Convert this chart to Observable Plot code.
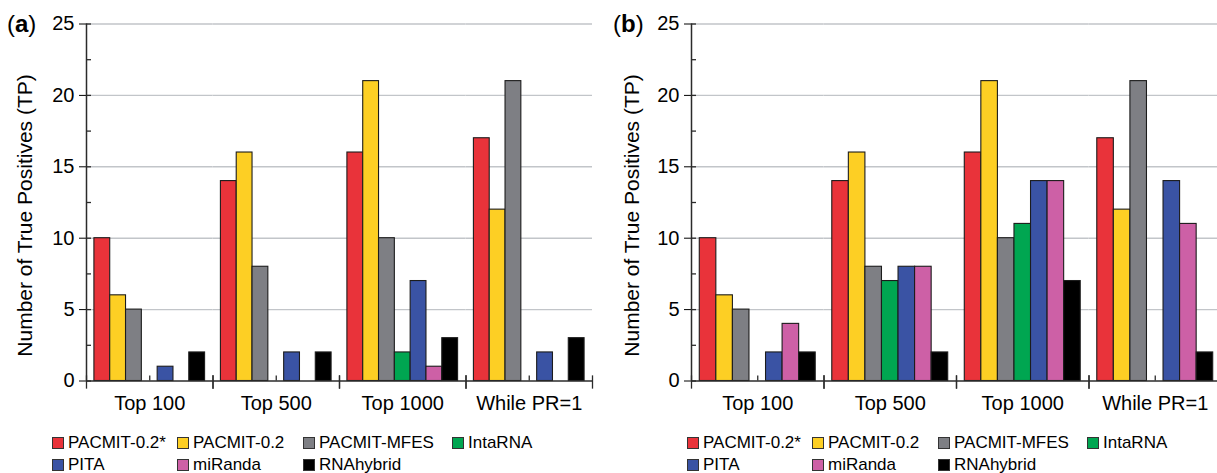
<!DOCTYPE html>
<html><head><meta charset="utf-8">
<script src="https://cdn.jsdelivr.net/npm/d3@7"></script>
<script src="https://cdn.jsdelivr.net/npm/@observablehq/plot@0.6"></script>
<style>
body{margin:0;width:1217px;height:473px;overflow:hidden;background:#fff;font-family:"Liberation Sans",Arial,sans-serif;color:#000}
#wrap{position:relative;width:1217px;height:473px;overflow:hidden}
.panel{position:absolute;top:0}
.panel svg{display:block;max-width:none !important}
.plabel{position:absolute;font-size:24px;line-height:24px;top:12px}
.legend{position:absolute;top:432px;display:grid;grid-template-columns:125px 126px 149px auto;grid-auto-rows:22px;font-size:17px}
.item{display:flex;align-items:center;white-space:nowrap}
.sw{width:10px;height:10px;border:1px solid #333;margin-right:4px;flex:none}
</style></head><body>
<div id="wrap"></div>
<script>
// categories
const groups = ["Top 100", "Top 500", "Top 1000", "While PR=1"];
const methods = ["PACMIT-0.2*", "PACMIT-0.2", "PACMIT-MFES", "IntaRNA", "PITA", "miRanda", "RNAhybrid"];
const colors = ["#e9333a", "#fdcf24", "#7e7f84", "#00a651", "#3a53a4", "#cd60a6", "#000000"];
const yTicks = [0, 5, 10, 15, 20, 25];
const yMinor = [0, 2.5, 5, 7.5, 10, 12.5, 15, 17.5, 20, 22.5, 25];

// panel (a) values, per method, in group order
const a_pacmit02star = [10, 14, 16, 17];
const a_pacmit02 = [6, 16, 21, 12];
const a_pacmitMfes = [5, 8, 10, 21];
const a_intarna = [0, 0, 2, 0];
const a_pita = [1, 2, 7, 2];
const a_miranda = [0, 0, 1, 0];
const a_rnahybrid = [2, 2, 3, 3];

// panel (b) values
const b_pacmit02star = [10, 14, 16, 17];
const b_pacmit02 = [6, 16, 21, 12];
const b_pacmitMfes = [5, 8, 10, 21];
const b_intarna = [0, 7, 11, 0];
const b_pita = [2, 8, 14, 14];
const b_miranda = [4, 8, 14, 11];
const b_rnahybrid = [2, 2, 7, 2];

const seriesA = [a_pacmit02star, a_pacmit02, a_pacmitMfes, a_intarna, a_pita, a_miranda, a_rnahybrid];
const seriesB = [b_pacmit02star, b_pacmit02, b_pacmitMfes, b_intarna, b_pita, b_miranda, b_rnahybrid];

function toRows(series) {
  const rows = [];
  groups.forEach((g, gi) => methods.forEach((m, mi) => rows.push({group: g, method: m, value: series[mi][gi]})));
  return rows;
}

const FONT = '"Liberation Sans", Arial, sans-serif';

function makePanel(rows, {width, marginLeft, marginRight, titleDx}) {
  const H = 425, mt = 23.5, mb = 44.5, plotH = H - mt - mb;
  const facetW = (width - marginLeft - marginRight) / groups.length;
  const step = facetW / 8;
  const axisCol = "#2b2b2b";
  return Plot.plot({
    width, height: H, marginLeft, marginRight, marginTop: mt, marginBottom: mb,
    style: {fontFamily: FONT, fontSize: "20px", color: "#000", background: "transparent", overflow: "visible"},
    fx: {domain: groups, padding: 0, round: false, label: null, tickSize: 0, tickPadding: 15, axis: "bottom"},
    x: {domain: methods, paddingInner: 0, paddingOuter: 0.5, round: false, axis: null},
    y: {domain: [0, 25], ticks: yTicks, tickSize: 7, tickPadding: 5, label: null},
    color: {domain: methods, range: colors},
    marks: [
      Plot.ruleY(yTicks.slice(1), {y: d => d, stroke: "#c2c5c9", strokeWidth: 1.4}),
      Plot.tickX(groups, {fx: d => d, x: () => methods[3], stroke: axisCol, strokeWidth: 1.3, insetTop: plotH - 5}),
      Plot.barY(rows.filter(d => d.value > 0), {fx: "group", x: "method", y: "value", fill: "method", stroke: "#1c1c1c", strokeWidth: 1.1}),
      Plot.ruleY([0], {stroke: axisCol, strokeWidth: 1.5}),
      Plot.frame({anchor: "left", stroke: axisCol, strokeWidth: 1.3, insetTop: plotH - 5, insetBottom: -7}),
      Plot.frame({anchor: "right", stroke: axisCol, strokeWidth: 1.3, insetTop: plotH - 5, insetBottom: -7}),
      Plot.ruleX([0], {fx: () => groups[0], x: () => methods[0], dx: -step, y1: 0, y2: 25, stroke: axisCol, strokeWidth: 1.5}),
      Plot.tickY(yMinor, {fx: () => groups[0], y: d => d, insetRight: facetW - 5, stroke: axisCol, strokeWidth: 1.3}),
      Plot.text(["Number of True Positives (TP)"], {fx: () => groups[0], text: d => d, frameAnchor: "left", textAnchor: "middle", lineAnchor: "middle", rotate: -90, dx: titleDx, dy: 13, fontSize: 21, fill: "#000"})
    ]
  });
}

const wrap = document.getElementById("wrap");

function addPanel(left, plot, labelLeft, letter, legendLeft) {
  const d = document.createElement("div");
  d.className = "panel"; d.style.left = left + "px";
  plot.style.maxWidth = "none";
  d.appendChild(plot);
  wrap.appendChild(d);
  const l = document.createElement("div");
  l.className = "plabel"; l.style.left = labelLeft + "px";
  l.innerHTML = "(<b>" + letter + "</b>)";
  wrap.appendChild(l);
  const lg = document.createElement("div");
  lg.className = "legend"; lg.style.left = legendLeft + "px";
  methods.forEach((m, i) => {
    const it = document.createElement("div");
    it.className = "item";
    const sw = document.createElement("span");
    sw.className = "sw"; sw.style.background = colors[i];
    it.appendChild(sw);
    it.appendChild(document.createTextNode(m));
    lg.appendChild(it);
  });
  wrap.appendChild(lg);
}

addPanel(0, makePanel(toRows(seriesA), {width: 610, marginLeft: 86, marginRight: 18, titleDx: -61}), 7, "a", 52);
addPanel(610, makePanel(toRows(seriesB), {width: 611, marginLeft: 81, marginRight: 0, titleDx: -59}), 613, "b", 687);
</script>
</body></html>
